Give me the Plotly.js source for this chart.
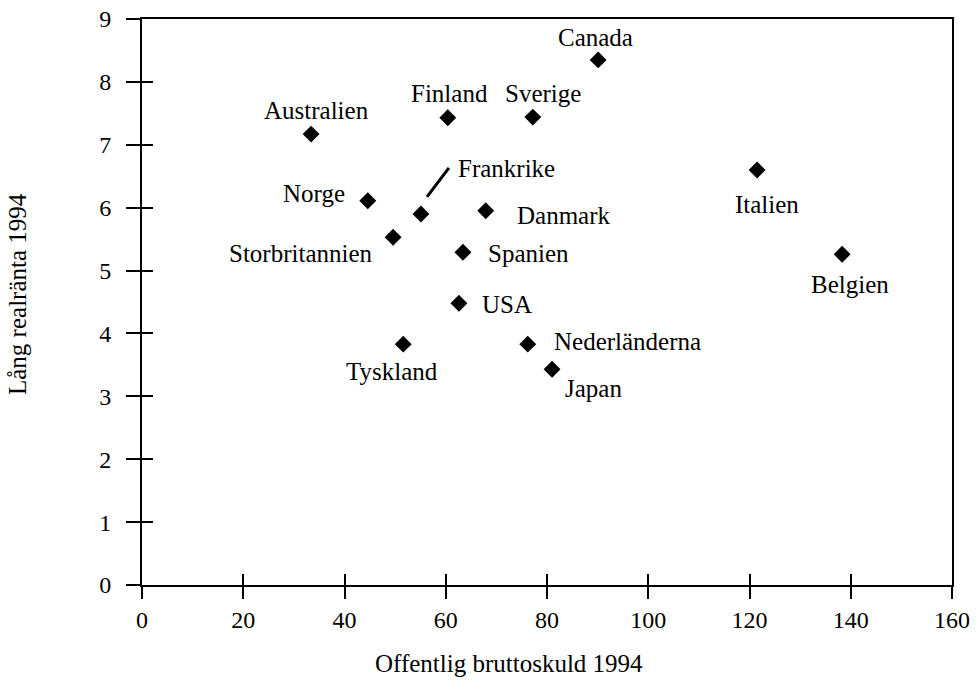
<!DOCTYPE html>
<html>
<head>
<meta charset="utf-8">
<script src="https://cdn.plot.ly/plotly-3.0.1.min.js"></script>
<style>html,body{margin:0;padding:0;background:#fff;}#chart{width:977px;height:692px;}</style>
</head>
<body>
<div id="chart"></div>
<script>
// Data
var countries = ["Canada","Sverige","Finland","Australien","Italien","Norge","Frankrike","Danmark","Storbritannien","Spanien","Belgien","USA","Tyskland","Nederländerna","Japan"];
var debt = [90.1, 77.2, 60.4, 33.4, 121.5, 44.6, 55.1, 67.9, 49.6, 63.4, 138.3, 62.6, 51.6, 76.2, 81.0];
var rate = [8.35, 7.44, 7.43, 7.17, 6.60, 6.11, 5.90, 5.95, 5.53, 5.29, 5.26, 4.48, 3.83, 3.83, 3.43];
var xTicks = [0, 20, 40, 60, 80, 100, 120, 140, 160];
var yTicks = [0, 1, 2, 3, 4, 5, 6, 7, 8, 9];
var xTitle = "Offentlig bruttoskuld 1994";
var yTitle = "Lång realränta 1994";

// Label placement (styling, not data): [xanchor, xshift, yshift]
var place = {
  "Canada": ["center", -3, 22],
  "Sverige": ["center", 10, 24],
  "Finland": ["center", 2, 24],
  "Australien": ["center", 5, 24],
  "Italien": ["center", 10, -35],
  "Norge": ["right", -21, 7],
  "Frankrike": ["left", 35, 45],
  "Danmark": ["left", 29, -5],
  "Storbritannien": ["right", -18, -16],
  "Spanien": ["left", 23, -1],
  "Belgien": ["center", 8, -30],
  "USA": ["left", 21, -1],
  "Tyskland": ["center", -11, -27],
  "Nederländerna": ["left", 24, 3],
  "Japan": ["left", 11, -19]
};

var FONT = "Liberation Serif, Times New Roman, serif";

var annotations = countries.map(function(c, i) {
  var p = place[c];
  return {
    x: debt[i], y: rate[i], xref: "x", yref: "y",
    text: c, showarrow: false,
    xanchor: p[0], yanchor: "middle",
    xshift: p[1], yshift: p[2],
    font: {family: FONT, size: 25, color: "#000"}
  };
});
annotations.push({
  xref: "paper", yref: "paper", x: 0.5, y: 0, xshift: -38, yshift: -78,
  xanchor: "center", yanchor: "middle", showarrow: false,
  text: xTitle, font: {family: FONT, size: 25, color: "#000"}
});
annotations.push({
  xref: "paper", yref: "paper", x: 0, y: 0.5, xshift: -125, yshift: 8,
  xanchor: "center", yanchor: "middle", showarrow: false, textangle: -90,
  text: yTitle, font: {family: FONT, size: 25, color: "#000"}
});

var fi = countries.indexOf("Frankrike");
var shapes = [{
  type: "line", xref: "x", yref: "y",
  xsizemode: "pixel", ysizemode: "pixel",
  xanchor: debt[fi], yanchor: rate[fi],
  x0: 6, x1: 28, y0: 17, y1: 46,
  line: {color: "#000", width: 3}
}];

var traces = [
  {
    type: "scatter", mode: "markers", x: debt, y: rate, text: countries,
    marker: {symbol: "diamond", size: 13, color: "#000", line: {width: 0}},
    hoverinfo: "text", cliponaxis: false, showlegend: false
  },
  {type: "scatter", mode: "markers", x: [], y: [], xaxis: "x2", yaxis: "y2", showlegend: false}
];

var layout = {
  width: 977, height: 692,
  margin: {l: 142, r: 25, t: 19, b: 107, pad: 0},
  paper_bgcolor: "#fff", plot_bgcolor: "#fff",
  showlegend: false,
  xaxis: {
    range: [0, 160], tickvals: xTicks, ticktext: xTicks.map(String),
    ticks: "outside", ticklen: 12, tickwidth: 2, tickcolor: "#000",
    showline: true, linewidth: 2, linecolor: "#000", mirror: true,
    showgrid: false, zeroline: false, ticklabelstandoff: 0,
    tickfont: {family: FONT, size: 24, color: "#000"}, fixedrange: true
  },
  yaxis: {
    range: [0, 9], tickvals: yTicks, ticktext: yTicks.map(String),
    ticks: "outside", ticklen: 14, tickwidth: 2, tickcolor: "#000",
    showline: true, linewidth: 2, linecolor: "#000", mirror: true,
    showgrid: false, zeroline: false, ticklabelstandoff: 10,
    tickfont: {family: FONT, size: 24, color: "#000"}, fixedrange: true
  },
  xaxis2: {
    range: [0, 160], tickvals: xTicks.slice(1, -1), overlaying: "x", anchor: "y2",
    ticks: "inside", ticklen: 11, tickwidth: 2, tickcolor: "#000",
    showticklabels: false, showline: false, showgrid: false, zeroline: false, fixedrange: true
  },
  yaxis2: {
    range: [0, 9], tickvals: yTicks.slice(1, -1), overlaying: "y", anchor: "x2",
    ticks: "inside", ticklen: 11, tickwidth: 2, tickcolor: "#000",
    showticklabels: false, showline: false, showgrid: false, zeroline: false, fixedrange: true
  },
  annotations: annotations,
  shapes: shapes
};

Plotly.newPlot("chart", traces, layout, {displayModeBar: false, staticPlot: true});
</script>
</body>
</html>
